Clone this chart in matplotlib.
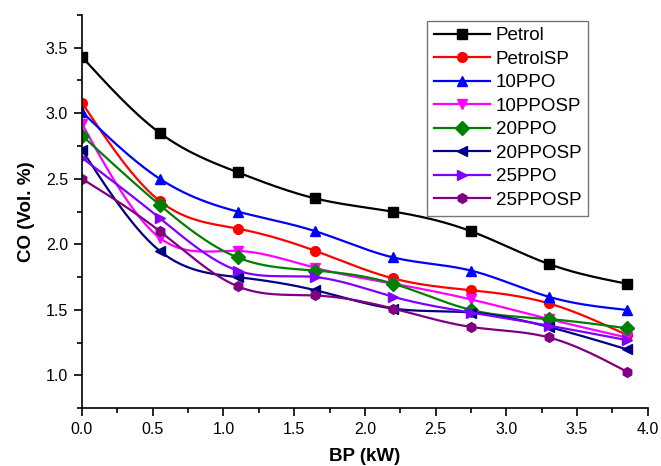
import numpy as np
import matplotlib
matplotlib.use("Agg")
import matplotlib.pyplot as plt
from matplotlib.ticker import MultipleLocator

bp = [0.0, 0.55, 1.1, 1.65, 2.2, 2.75, 3.3, 3.85]
petrol   = [3.43, 2.85, 2.55, 2.35, 2.25, 2.10, 1.85, 1.70]
petrolsp = [3.08, 2.33, 2.12, 1.95, 1.74, 1.65, 1.55, 1.31]
ppo10    = [3.01, 2.50, 2.25, 2.10, 1.90, 1.80, 1.60, 1.50]
pposp10  = [2.92, 2.05, 1.95, 1.82, 1.70, 1.58, 1.43, 1.29]
ppo20    = [2.83, 2.30, 1.90, 1.80, 1.70, 1.50, 1.43, 1.36]
pposp20  = [2.72, 1.95, 1.75, 1.65, 1.51, 1.48, 1.37, 1.20]
ppo25    = [2.66, 2.20, 1.80, 1.75, 1.60, 1.48, 1.38, 1.27]
pposp25  = [2.50, 2.10, 1.68, 1.61, 1.51, 1.37, 1.29, 1.03]

labels = ["Petrol", "PetrolSP", "10PPO", "10PPOSP", "20PPO", "20PPOSP", "25PPO", "25PPOSP"]
series = [petrol, petrolsp, ppo10, pposp10, ppo20, pposp20, ppo25, pposp25]
colors = ["#000000", "#FF0000", "#0000FF", "#FF00FF", "#008000", "#000080", "#8000FF", "#800080"]
markers = ["s", "o", "^", "v", "D", "<", ">", "h"]


def natural_spline(x, y, n=200):
    x = np.asarray(x, float); y = np.asarray(y, float)
    k = len(x)
    h = np.diff(x)
    A = np.zeros((k, k)); r = np.zeros(k)
    A[0, 0] = 1; A[-1, -1] = 1
    for i in range(1, k - 1):
        A[i, i - 1] = h[i - 1]
        A[i, i] = 2 * (h[i - 1] + h[i])
        A[i, i + 1] = h[i]
        r[i] = 3 * ((y[i + 1] - y[i]) / h[i] - (y[i] - y[i - 1]) / h[i - 1])
    c = np.linalg.solve(A, r)
    b = np.zeros(k - 1); d = np.zeros(k - 1)
    for i in range(k - 1):
        b[i] = (y[i + 1] - y[i]) / h[i] - h[i] * (2 * c[i] + c[i + 1]) / 3
        d[i] = (c[i + 1] - c[i]) / (3 * h[i])
    xs = np.linspace(x[0], x[-1], n)
    idx = np.clip(np.searchsorted(x, xs) - 1, 0, k - 2)
    dx = xs - x[idx]
    ys = y[idx] + b[idx] * dx + c[idx] * dx ** 2 + d[idx] * dx ** 3
    return xs, ys


plt.rcParams['font.family'] = ['Liberation Sans', 'DejaVu Sans']
fig = plt.figure(figsize=(6.61, 4.66), dpi=100)
ax = fig.add_axes([0.124, 0.124, 0.856, 0.844])

for y, lab, col, m in zip(series, labels, colors, markers):
    xs, ys = natural_spline(bp, y)
    ax.plot(xs, ys, color=col, lw=1.6)
    ax.plot(bp, y, linestyle='none', marker=m, color=col, markersize=7)
    ax.plot([], [], color=col, lw=1.6, marker=m, markersize=7, label=lab)

ax.set_xlim(0, 4.0)
ax.set_ylim(0.75, 3.75)
ax.xaxis.set_major_locator(MultipleLocator(0.5))
ax.xaxis.set_minor_locator(MultipleLocator(0.25))
ax.yaxis.set_major_locator(MultipleLocator(0.5))
ax.yaxis.set_minor_locator(MultipleLocator(0.25))
ax.set_yticks([1.0, 1.5, 2.0, 2.5, 3.0, 3.5])
ax.tick_params(which='major', direction='out', length=6, width=1.2, labelsize=11.5, pad=4)
ax.tick_params(which='minor', direction='out', length=3.5, width=1.2)
ax.spines['top'].set_visible(False)
ax.spines['right'].set_visible(False)
ax.spines['left'].set_linewidth(1.2)
ax.spines['bottom'].set_linewidth(1.2)
ax.set_xlabel('BP (kW)', fontsize=13.5, fontweight='bold', labelpad=8)
ax.set_ylabel('CO (Vol. %)', fontsize=13.5, fontweight='bold', labelpad=8)

leg = ax.legend(loc='upper left', bbox_to_anchor=(0.61, 0.985), fontsize=13.5,
                frameon=True, fancybox=False, edgecolor='#777777', handlelength=3.0,
                labelspacing=0.34, borderpad=0.35, handletextpad=0.3, borderaxespad=0,
                framealpha=1)
leg.get_frame().set_linewidth(1.0)

fig.savefig('out.png', dpi=100)
